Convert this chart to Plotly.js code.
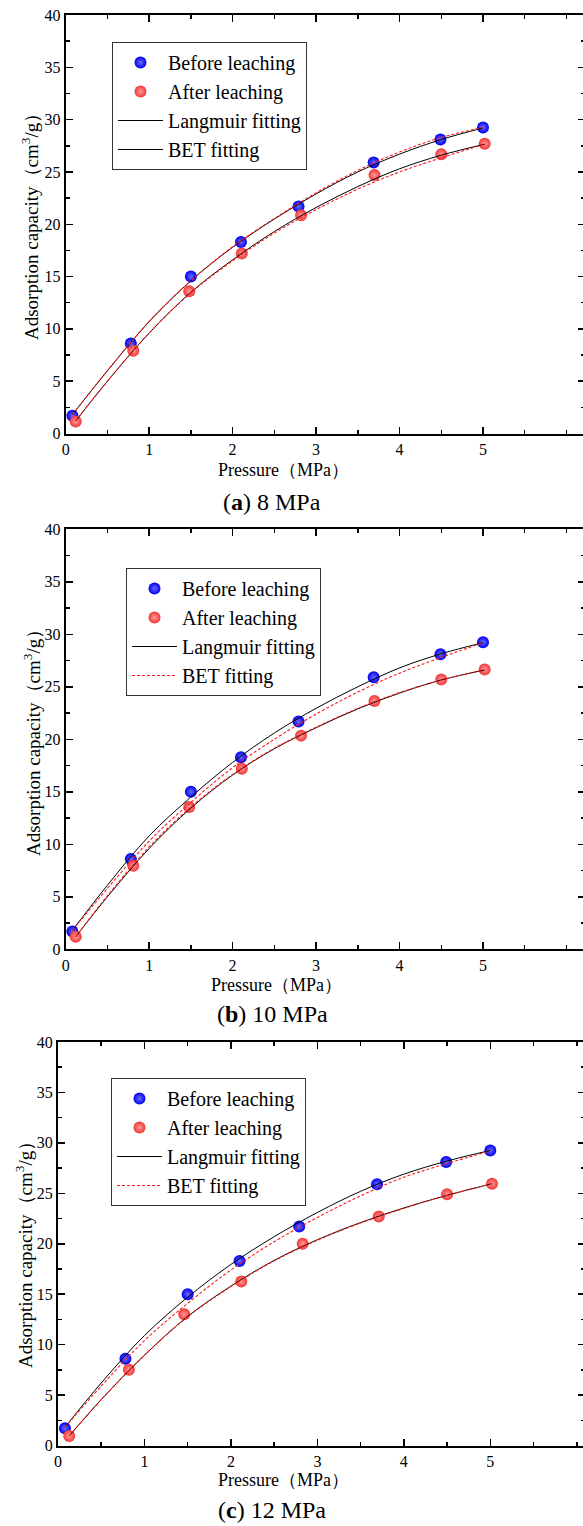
<!DOCTYPE html>
<html>
<head>
<meta charset="utf-8">
<script src="https://cdn.plot.ly/plotly-3.0.1.min.js"></script>
<style>
html, body { margin: 0; padding: 0; width: 583px; height: 1526px; overflow: hidden; background: #fff; }
#chart { width: 592px; height: 1526px; }
</style>
</head>
<body>
<div id="chart"></div>
<script>
// ---------- data ----------
const panelCaptions = ["8 MPa", "10 MPa", "12 MPa"];
const panelLetters = ["a", "b", "c"];
const seriesNames = ["Before leaching", "After leaching", "Langmuir fitting", "BET fitting"];
const xTickVals = [0, 1, 2, 3, 4, 5];
const yTickVals = [0, 5, 10, 15, 20, 25, 30, 35, 40];

const pressureBefore = [0.08, 0.78, 1.5, 2.1, 2.79, 3.69, 4.49, 5.0];
const adsorptionBefore = [1.7, 8.6, 15.0, 18.3, 21.7, 25.9, 28.1, 29.25];

const pressureAfter = [0.12, 0.81, 1.48, 2.11, 2.82, 3.70, 4.50, 5.02];
const adsorptionAfter8 = [1.15, 7.9, 13.6, 17.2, 20.85, 24.7, 26.7, 27.7];
const adsorptionAfter10 = [1.2, 7.95, 13.55, 17.2, 20.35, 23.65, 25.7, 26.65];
const pressureAfter12 = [0.13, 0.82, 1.46, 2.12, 2.83, 3.71, 4.50, 5.02];
const adsorptionAfter12 = [0.95, 7.5, 13.0, 16.25, 20.0, 22.7, 24.9, 25.95];

// fitted curves
const fitPressureBefore = [0.08, 0.5, 1, 1.5, 2, 2.5, 3, 3.5, 4, 4.5, 5.0];
const fitPressureAfter = [0.12, 0.5, 1, 1.5, 2, 2.5, 3, 3.5, 4, 4.5, 5.02];
const fitPressureAfter12 = [0.13, 0.5, 1, 1.5, 2, 2.5, 3, 3.5, 4, 4.5, 5.02];

const langBefore8 = [1.8, 6.0, 10.7, 14.6, 17.8, 20.5, 22.9, 25.0, 26.7, 28.1, 29.2];
const betBefore8 = [1.8, 6.0, 10.7, 14.6, 17.85, 20.55, 23.0, 25.15, 26.9, 28.3, 29.25];
const langAfter8 = [1.2, 5.0, 9.6, 13.5, 16.6, 19.3, 21.6, 23.6, 25.3, 26.6, 27.65];
const betAfter8 = [1.2, 5.0, 9.6, 13.45, 16.5, 19.15, 21.4, 23.35, 25.0, 26.35, 27.65];

const langBefore10 = [1.8, 6.1, 10.8, 14.5, 17.8, 20.6, 22.95, 25.0, 26.8, 28.15, 29.2];
const betBefore10 = [1.8, 5.8, 10.3, 14.0, 17.3, 20.0, 22.4, 24.5, 26.3, 27.8, 29.2];
const langAfter10 = [1.2, 5.0, 9.6, 13.45, 16.6, 19.1, 21.1, 22.9, 24.4, 25.65, 26.6];
const betAfter10 = [1.2, 5.1, 9.75, 13.55, 16.65, 19.15, 21.15, 22.95, 24.45, 25.65, 26.6];

const langBefore12 = [1.8, 6.2, 10.9, 14.7, 17.95, 20.7, 23.1, 25.2, 26.9, 28.2, 29.25];
const betBefore12 = [1.8, 5.9, 10.4, 14.1, 17.4, 20.2, 22.6, 24.75, 26.6, 27.95, 29.2];
const langAfter12 = [0.95, 4.55, 8.95, 12.8, 15.8, 18.35, 20.4, 22.1, 23.55, 24.8, 25.95];
const betAfter12 = [0.95, 4.55, 8.95, 12.75, 15.75, 18.3, 20.35, 22.05, 23.5, 24.8, 25.95];

// ---------- assembly ----------
const panels = [
  { after: [pressureAfter, adsorptionAfter8], lb: [fitPressureBefore, langBefore8], bb: [fitPressureBefore, betBefore8],
    la: [fitPressureAfter, langAfter8], ba: [fitPressureAfter, betAfter8], betLegendBlack: true },
  { after: [pressureAfter, adsorptionAfter10], lb: [fitPressureBefore, langBefore10], bb: [fitPressureBefore, betBefore10],
    la: [fitPressureAfter, langAfter10], ba: [fitPressureAfter, betAfter10], betLegendBlack: false },
  { after: [pressureAfter12, adsorptionAfter12], lb: [fitPressureBefore, langBefore12], bb: [fitPressureBefore, betBefore12],
    la: [fitPressureAfter12, langAfter12], ba: [fitPressureAfter12, betAfter12], betLegendBlack: false }
];

// pixel geometry of each panel (layout only)
const W = 592, H = 1526;
const geom = [
  { x0: 65.7, x1: 585, ux: 83.46, y0: 433.5, y40: 15,   legX: 112, legY: 42,   xtX: 283, xtY: 470,  ytX: 30, ytY: 222,  capY: 502 },
  { x0: 65.7, x1: 585, ux: 83.46, y0: 949.3, y40: 529.3, legX: 126, legY: 568,  xtX: 276, xtY: 985,  ytX: 32, ytY: 738,  capY: 1014 },
  { x0: 58,   x1: 585, ux: 86.46, y0: 1445.5, y40: 1042, legX: 111, legY: 1078, xtX: 283, xtY: 1480, ytX: 24, ytY: 1250, capY: 1510 }
];
const px = v => v / W;
const py = v => 1 - v / H;

const SERIF = "'Liberation Serif', 'Times New Roman', serif";
const traces = [];
const layout = {
  width: W, height: H,
  margin: { l: 0, r: 0, t: 0, b: 0 },
  paper_bgcolor: "#fff", plot_bgcolor: "#fff",
  font: { family: SERIF, color: "#000" },
  showlegend: true,
  annotations: []
};

const blueMarker = { size: 12, color: "#0000f0", gradient: { type: "radial", color: "#6a6aff" }, line: { width: 0 } };
const redMarker = { size: 12, color: "#f23636", gradient: { type: "radial", color: "#ff9a9a" }, line: { width: 0 } };

panels.forEach((p, i) => {
  const g = geom[i];
  const sfx = i === 0 ? "" : String(i + 1);
  const xa = "x" + sfx, ya = "y" + sfx;
  const leg = "legend" + sfx;

  traces.push({ type: "scatter", mode: "markers", x: pressureBefore, y: adsorptionBefore, xaxis: xa, yaxis: ya,
    name: seriesNames[0], marker: blueMarker, legend: leg, legendrank: 1, legendgroup: "g1" + i });
  traces.push({ type: "scatter", mode: "markers", x: p.after[0], y: p.after[1], xaxis: xa, yaxis: ya,
    name: seriesNames[1], marker: redMarker, legend: leg, legendrank: 2, legendgroup: "g2" + i });

  const blackLine = { color: "#000", width: 1, shape: "spline", smoothing: 1 };
  const redLine = { color: "#ff1a1a", width: 1.1, dash: "3px,2px", shape: "spline", smoothing: 1 };

  traces.push({ type: "scatter", mode: "lines", x: p.lb[0], y: p.lb[1], xaxis: xa, yaxis: ya,
    name: seriesNames[2], line: blackLine, legend: leg, legendrank: 3, legendgroup: "g3" + i });
  traces.push({ type: "scatter", mode: "lines", x: p.la[0], y: p.la[1], xaxis: xa, yaxis: ya,
    name: seriesNames[2], line: blackLine, showlegend: false, legendgroup: "g3" + i });
  traces.push({ type: "scatter", mode: "lines", x: p.bb[0], y: p.bb[1], xaxis: xa, yaxis: ya,
    name: seriesNames[3], line: redLine, legend: leg, legendrank: 4, legendgroup: "g4" + i,
    showlegend: !p.betLegendBlack });
  traces.push({ type: "scatter", mode: "lines", x: p.ba[0], y: p.ba[1], xaxis: xa, yaxis: ya,
    name: seriesNames[3], line: redLine, showlegend: false, legendgroup: "g4" + i });
  if (p.betLegendBlack) {
    // in panel (a) the legend shows the BET key as a black solid line
    traces.push({ type: "scatter", mode: "lines", x: [null], y: [null], xaxis: xa, yaxis: ya,
      name: seriesNames[3], line: { color: "#000", width: 1 }, legend: leg, legendrank: 4, legendgroup: "g5" + i });
  }

  const xr = (g.x1 - g.x0) / g.ux;
  layout["xaxis" + sfx] = {
    domain: [px(g.x0), px(g.x1)], range: [0, xr], anchor: ya,
    showline: true, linecolor: "#000", linewidth: 2, mirror: "allticks",
    ticks: "inside", ticklen: 7, tickwidth: 1.5, tickcolor: "#000",
    tickvals: xTickVals, ticktext: xTickVals.map(String),
    minor: { ticks: "inside", ticklen: 4, tickwidth: 1.5, tickcolor: "#000", dtick: 0.5, tick0: 0 },
    showgrid: false, zeroline: false, fixedrange: true,
    tickfont: { family: SERIF, size: 16, color: "#000" }
  };
  layout["yaxis" + sfx] = {
    domain: [py(g.y0), py(g.y40)], range: [0, 40], anchor: xa,
    showline: true, linecolor: "#000", linewidth: 2, mirror: "allticks",
    ticks: "inside", ticklen: 7, tickwidth: 1.5, tickcolor: "#000",
    tickvals: yTickVals, ticktext: yTickVals.map(String),
    minor: { ticks: "inside", ticklen: 4, tickwidth: 1.5, tickcolor: "#000", dtick: 2.5, tick0: 0 },
    showgrid: false, zeroline: false, fixedrange: true,
    tickfont: { family: SERIF, size: 16, color: "#000" }
  };
  layout[leg] = {
    x: px(g.legX), y: py(g.legY), xanchor: "left", yanchor: "top",
    xref: "paper", yref: "paper",
    bgcolor: "rgba(255,255,255,1)", bordercolor: "#333", borderwidth: 1,
    font: { family: SERIF, size: 20, color: "#000" },
    tracegroupgap: 0, itemwidth: 45, traceorder: "normal"
  };

  layout.annotations.push({
    xref: "paper", yref: "paper", x: px(g.xtX), y: py(g.xtY), xanchor: "center", yanchor: "middle",
    text: "Pressure（MPa）", showarrow: false, font: { family: SERIF, size: 18, color: "#000" }
  });
  layout.annotations.push({
    xref: "paper", yref: "paper", x: px(g.ytX), y: py(g.ytY), xanchor: "center", yanchor: "middle",
    text: "Adsorption capacity（cm<sup>3</sup>/g）", textangle: -90, showarrow: false,
    font: { family: SERIF, size: 19, color: "#000" }
  });
  layout.annotations.push({
    xref: "paper", yref: "paper", x: px(272), y: py(g.capY), xanchor: "center", yanchor: "middle",
    text: "(<b>" + panelLetters[i] + "</b>) " + panelCaptions[i], showarrow: false,
    font: { family: SERIF, size: 24, color: "#000" }
  });
});

Plotly.newPlot("chart", traces, layout, { staticPlot: true, displayModeBar: false });
</script>
</body>
</html>
